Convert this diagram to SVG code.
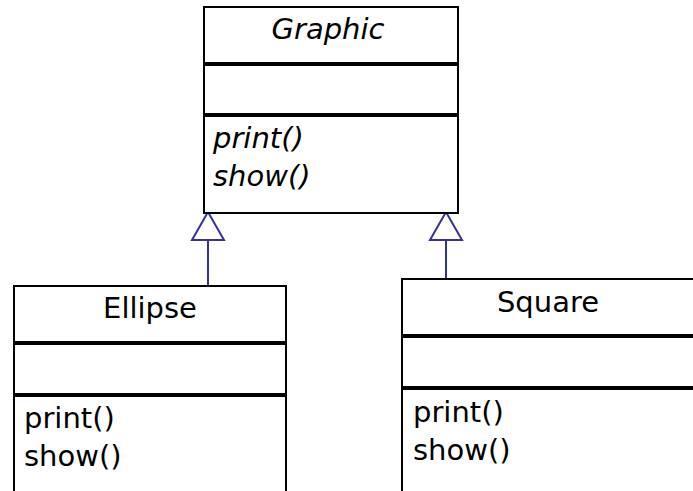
<svg xmlns="http://www.w3.org/2000/svg" width="693" height="491" viewBox="0 0 693 491">
<style>
.box{fill:#fff;stroke:#000;stroke-width:2}
.div{stroke:#000;stroke-width:4}
.t{font-family:"DejaVu Sans",sans-serif;font-size:29px;fill:#000}
.it{font-style:italic}
.mid{text-anchor:middle}
.conn{stroke:#33339a;stroke-width:2;fill:none}
.tri{stroke:#33339a;stroke-width:2;fill:#fff}
</style>
<g id="connectors">
<line class="conn" x1="208" y1="240" x2="208" y2="286"/>
<polygon class="tri" points="208,212 192,240 224,240"/>
<line class="conn" x1="446" y1="240" x2="446" y2="279"/>
<polygon class="tri" points="446,212 430,240 462,240"/>
</g>
<g id="Graphic">
<rect class="box" x="204" y="7" width="254" height="206"/>
<line class="div" x1="204" y1="64" x2="458" y2="64"/>
<line class="div" x1="204" y1="115" x2="458" y2="115"/>
<text class="t it mid" x="328" y="39">Graphic</text>
<text class="t it" x="213" y="148">print()</text>
<text class="t it" x="213" y="186">show()</text>
</g>
<g id="Ellipse">
<rect class="box" x="14" y="286" width="272" height="220"/>
<line class="div" x1="14" y1="343" x2="286" y2="343"/>
<line class="div" x1="14" y1="395" x2="286" y2="395"/>
<text class="t mid" x="150" y="318">Ellipse</text>
<text class="t" x="24" y="428">print()</text>
<text class="t" x="24" y="466">show()</text>
</g>
<g id="Square">
<rect class="box" x="402" y="279" width="310" height="230"/>
<line class="div" x1="402" y1="336" x2="712" y2="336"/>
<line class="div" x1="402" y1="388" x2="712" y2="388"/>
<text class="t mid" x="548" y="312">Square</text>
<text class="t" x="413" y="422">print()</text>
<text class="t" x="413" y="460">show()</text>
</g>
</svg>
